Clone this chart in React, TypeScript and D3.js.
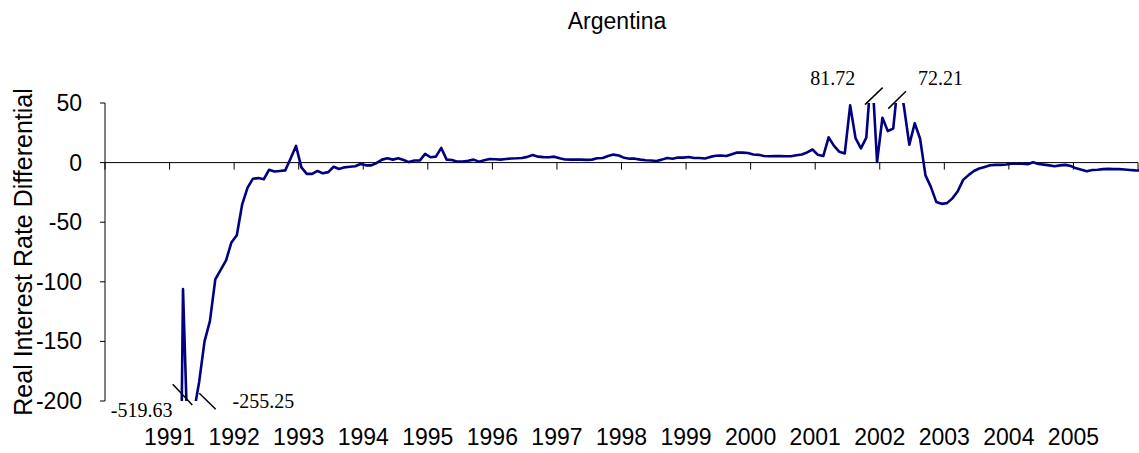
import React from "react";
import * as d3 from "d3";

// Monthly real interest rate differential, Argentina, Feb 1991 .. Jan 2006
const START_YEAR = 1990; // axis origin (January 1990)
const FIRST_MONTH_INDEX = 13; // Feb 1991, months after Jan 1990
const values: number[] = [
  -519.63, -106, -255.25, -210, -184, -150, -133, -98, -90, -82, -67,
  -61, -35, -21, -13.5, -13, -14, -6, -7.5, -7, -6.5, 3.5, 14,
  -4, -9.5, -9.5, -7, -9, -8, -3.5, -5.3, -4, -3.5, -3, -1.2,
  -2.3, -2.3, -0.3, 2.5, 3.6, 2.5, 3.6, 2.2, 0.4, 1.7, 1.7, 7.3,
  4.5, 5, 12.3, 2.5, 2.2, 0.8, 0.8, 1.5, 2.5, 0.8, 2, 3,
  2.8, 2.5, 3, 3.4, 3.6, 3.9, 4.8, 6.4, 5, 4.6, 4.5, 5,
  3.6, 2.6, 2.5, 2.5, 2.5, 2.3, 2.5, 3.6, 3.9, 5.5, 6.7, 6,
  4, 3.3, 3.3, 2.5, 2, 1.7, 1.4, 2.5, 3.9, 3.3, 4.2, 4.2,
  4.7, 3.9, 3.9, 3.5, 4.8, 5.8, 6, 5.5, 7, 8.4, 8.4, 8,
  6.8, 6.5, 5.5, 5.3, 5.4, 5.5, 5.3, 5.3, 6.1, 6.8, 8.5, 11,
  6.5, 5.5, 21.2, 14, 9, 7.7, 48, 20.5, 12, 21, 81.72, 0.5,
  37.6, 26.4, 28.6, 72.21, 47, 15, 33, 20, -10.7, -20.4, -33, -34.6,
  -34, -30, -24, -14.5, -10.5, -7, -5, -3.6, -2.2, -1.9, -1.9, -1.6,
  -1, -1, -1, -1.3, 0.3, -1.2, -1.7, -2.3, -3, -2.3, -1.9, -2.8,
  -4.8, -6, -7.2, -6.2, -6, -5.5, -5.3, -5.5, -5.5, -5.8, -6.2, -6.5,
  -6.7,
];
const yearLabels: string[] = [
  "1991", "1992", "1993", "1994", "1995", "1996", "1997", "1998",
  "1999", "2000", "2001", "2002", "2003", "2004", "2005",
];
const yTicks: number[] = [50, 0, -50, -100, -150, -200];
// clipped outliers annotated on the chart
const outlierLabels: string[] = ["-519.63", "-255.25", "81.72", "72.21"];

const W = 1139;
const H = 453;
const plot = { left: 105, right: 1138, top: 103, bottom: 401 };

export default function App() {
  const x = d3.scaleLinear().domain([0, 192]).range([plot.left, plot.right]);
  const y = d3.scaleLinear().domain([-200, 50]).range([plot.bottom, plot.top]);
  const pts = values.map((v, i) => ({ t: FIRST_MONTH_INDEX + i + 0.5, v }));
  const line = d3
    .line<{ t: number; v: number }>()
    .x((d) => x(d.t))
    .y((d) => y(d.v));

  const monthTicks = d3.range(0, 193, 12);

  const findT = (label: string) => {
    const val = parseFloat(label);
    return pts.find((d) => Math.abs(d.v - val) < 1e-6)!;
  };

  // annotation placement relative to the clipped point
  const annots = [
    { label: outlierLabels[0], at: -200, dxText: -36, yText: 416.5, b: [-4.9, -16.7, 14.7, 4] },
    { label: outlierLabels[1], at: -200, dxText: 75, yText: 408, b: [10.9, -7.7, 27.3, 8.3] },
    { label: outlierLabels[2], at: 50, dxText: -39, yText: 85, b: [-6.7, 1.6, 11, -15.4] },
    { label: outlierLabels[3], at: 50, dxText: 42, yText: 85, b: [-10.3, 5.6, 7.4, -11.7] },
  ];

  const axisFont = "Arial, 'Liberation Sans', sans-serif";

  return (
    <svg
      width={W}
      height={H}
      style={{ position: "absolute", left: 0, top: 0, background: "#fff" }}
    >
      <defs>
        <clipPath id="plotClip">
          <rect
            x={plot.left}
            y={plot.top}
            width={plot.right - plot.left + 2}
            height={plot.bottom - plot.top}
          />
        </clipPath>
      </defs>
      <rect x={0} y={0} width={W} height={H} fill="#fff" />
      <text
        x={617}
        y={29}
        textAnchor="middle"
        fontFamily={axisFont}
        fontSize={23}
        fill="#000"
      >
        Argentina
      </text>

      {/* y axis */}
      <line x1={plot.left} x2={plot.left} y1={y(50)} y2={y(-200)} stroke="#000" strokeWidth={1} />
      {yTicks.map((v) => (
        <g key={v}>
          <line x1={plot.left - 5} x2={plot.left} y1={y(v)} y2={y(v)} stroke="#000" strokeWidth={1} />
          <text
            x={82}
            y={y(v)}
            dy="0.35em"
            textAnchor="end"
            fontFamily={axisFont}
            fontSize={23}
            fill="#000"
          >
            {v}
          </text>
        </g>
      ))}
      <text
        transform={`translate(32, ${(plot.top + plot.bottom) / 2}) rotate(-90)`}
        textAnchor="middle"
        fontFamily={axisFont}
        fontSize={25}
        fill="#000"
      >
        Real Interest Rate Differential
      </text>

      {/* x axis at zero */}
      <line x1={plot.left} x2={plot.right} y1={y(0)} y2={y(0)} stroke="#000" strokeWidth={1} />
      {monthTicks.map((m) => (
        <line key={m} x1={x(m)} x2={x(m)} y1={y(0)} y2={y(0) + 7} stroke="#000" strokeWidth={1} />
      ))}
      {yearLabels.map((lab) => (
        <text
          key={lab}
          x={x((+lab - START_YEAR) * 12)}
          y={445}
          textAnchor="middle"
          fontFamily={axisFont}
          fontSize={23}
          fill="#000"
        >
          {lab}
        </text>
      ))}

      <path
        d={line(pts) || ""}
        fill="none"
        stroke="#000080"
        strokeWidth={2.6}
        strokeLinejoin="round"
        clipPath="url(#plotClip)"
      />

      {annots.map((a) => {
        const p = findT(a.label);
        const cx = x(p.t);
        const cy = y(a.at);
        return (
          <g key={a.label}>
            <line
              x1={cx + a.b[0]}
              y1={cy + a.b[1]}
              x2={cx + a.b[2]}
              y2={cy + a.b[3]}
              stroke="#000"
              strokeWidth={1.5}
            />
            <text
              x={cx + a.dxText}
              y={a.yText}
              textAnchor="middle"
              fontFamily="'Times New Roman', 'Liberation Serif', serif"
              fontSize={20}
              fill="#000"
            >
              {a.label}
            </text>
          </g>
        );
      })}
    </svg>
  );
}
